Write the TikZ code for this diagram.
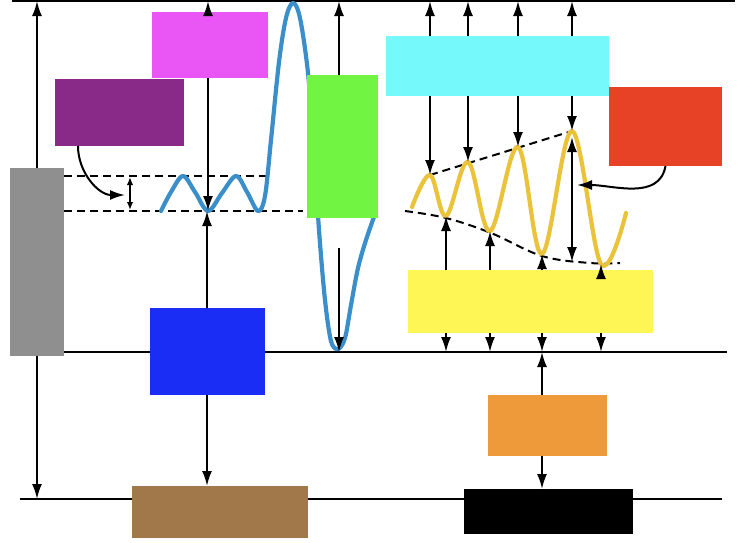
\documentclass[tikz,border=0pt]{standalone}
\usepackage{tikz}
\usetikzlibrary{positioning,arrows.meta,calc}

\definecolor{cGray}{HTML}{8F8F8F}
\definecolor{cMagenta}{HTML}{EA55F5}
\definecolor{cPurple}{HTML}{8A2A88}
\definecolor{cGreen}{HTML}{72F542}
\definecolor{cCyan}{HTML}{75F9FB}
\definecolor{cRed}{HTML}{E84226}
\definecolor{cYellow}{HTML}{FDF655}
\definecolor{cBlue}{HTML}{1A2DF5}
\definecolor{cBrown}{HTML}{A0784A}
\definecolor{cOrange}{HTML}{EE9A3A}
\definecolor{waveBlue}{HTML}{3A8FCB}
\definecolor{waveGold}{HTML}{EBC33A}

\begin{document}
\begin{tikzpicture}[x=1pt,y=-1pt,outer sep=0pt,
  blockA/.style={
    fill=cGray,
    inner sep=0pt,
    minimum width=54pt,
    minimum height=188pt,
    },
  blockB/.style={blockA,fill=cMagenta,minimum width=116pt,minimum height=66pt},
  blockC/.style={blockA,fill=cPurple,minimum width=129pt,minimum height=67pt},
  rail/.style={line width=2pt},
  guide/.style={line width=2pt,dash pattern=on 8pt off 5pt},
  arr/.style={line width=2pt,-{Latex[length=15pt,width=10pt]}},
  darr/.style={arr,{Latex[length=15pt,width=10pt]}-{Latex[length=15pt,width=10pt]}},
  wave/.style={line width=4.2pt,line cap=round,line join=round},
  ]
  \useasboundingbox (0,0) rectangle (749,542);

  % horizontal rails
  \coordinate (topL) at (12,1);   \coordinate (topR) at (735,1);
  \coordinate (midL) at (64,352); \coordinate (midR) at (727,352);
  \coordinate (botL) at (20,499); \coordinate (botR) at (722,499);
  \draw[rail] (topL) -- (topR);
  \draw[rail] (midL) -- (midR);
  \draw[rail] (botL) -- (botR);

  % left wave and its levels
  \coordinate (bt1) at (208,211);
  \draw[guide] (64,176) -- (267,176);
  \draw[guide] (64,211) -- (303,211);
  \draw[wave,waveBlue] plot[smooth,tension=0.55] coordinates {
    (161,211) (171,192) (183,176) (195,192) (208,211) (222,193) (236,176)
    (247,192) (258,211) (265,196) (271,140) (279,62) (286,18) (293,3)
    (300,18) (308,73) (314,150) (319,230) (325,300) (331,341) (338,349)
    (345,338) (351,305) (358,268) (366,240) (375,214)};

  % right wave and its envelope
  \coordinate (yp1) at (430,175); \coordinate (yp2) at (468,162);
  \coordinate (yp3) at (518,147); \coordinate (yp4) at (572,131);
  \coordinate (yt1) at (446,216); \coordinate (yt2) at (490,231);
  \coordinate (yt3) at (542,254); \coordinate (yt4) at (601,264);
  \draw[guide] (yp1) -- (yp4);
  \draw[guide] plot[smooth,tension=0.6] coordinates {
    (405,211) (446,218) (491,233) (542,256) (590,263) (620,263)};
  \draw[wave,waveGold] plot[smooth,tension=0.6] coordinates {
    (412,207) (yp1) (yt1) (yp2) (yt2) (yp3) (yt3) (yp4) (yt4) (626,213)};

  % blocks
  \node[blockA] (gray) at (37,262) {};
  \node[blockB] (magenta) at (210,45) {};
  \node[blockC] (purple) at (119.5,112.5) {};
  \node[blockA, fill=cGreen, minimum width=71pt, minimum height=143pt] (green) at (342.5,146.5) {};
  \node[blockA, fill=cCyan, minimum width=223pt, minimum height=60pt] (cyan) at (497.5,66) {};
  \node[blockA, fill=cRed, minimum width=113pt, minimum height=79pt] (red) at (665.5,126.5) {};
  \node[blockA, fill=cYellow, minimum width=245pt, minimum height=63pt] (yellow) at (530.5,301.5) {};
  \node[blockA, fill=cBlue, minimum width=115pt, minimum height=87pt] (blue) at (207,351.5) {};
  \node[blockA, fill=cBrown, minimum width=176pt, minimum height=52pt] (brown) at (220,512) {};
  \node[blockA, fill=cOrange, minimum width=119pt, minimum height=61pt] (orange) at (547.5,425.5) {};
  \node[blockA, fill=black, minimum width=169pt, minimum height=45pt] (black) at (548.5,511.5) {};

  % left column
  \draw[arr] (gray.north) -- (gray.north |- topL);
  \draw[arr] (gray.south) -- (gray.south |- botL);
  \coordinate (pA) at (125,195);
  \draw[arr] ([xshift=23pt]purple.south west) to[out=-90,in=180] (pA);
  \coordinate (dA) at (130,177); \coordinate (dB) at (130,210);
  \draw[darr,{Latex[length=8pt,width=6.5pt]}-{Latex[length=8pt,width=6.5pt]}] (dA) -- (dB);

  % middle column
  \draw[arr] (magenta.north -| bt1) -- (bt1 |- topL);
  \draw[arr] (magenta.south -| bt1) -- (bt1);
  \draw[arr] (blue.north) -- (blue.north |- bt1);
  \draw[arr] (blue.south) -- (blue.south |- brown.north);
  \coordinate (gx) at (339,248);
  \draw[arr] (green.north -| gx) -- (gx |- topL);
  \draw[arr] (gx) -- (gx |- midL);

  % right column
  \draw[arr] (cyan.north -| yp1) -- (yp1 |- topL);
  \draw[arr] (cyan.north -| yp2) -- (yp2 |- topL);
  \draw[arr] (cyan.north -| yp3) -- (yp3 |- topL);
  \draw[arr] (cyan.north -| yp4) -- (yp4 |- topL);
  \draw[arr] (cyan.south -| yp1) -- (yp1);
  \draw[arr] (cyan.south -| yp2) -- (yp2);
  \draw[arr] (cyan.south -| yp3) -- (yp3);
  \draw[arr] (cyan.south -| yp4) -- (yp4);

  \draw[arr] (yellow.north -| yt1) -- (yt1);
  \draw[arr] (yellow.north -| yt2) -- (yt2);
  \draw[arr] (yellow.north -| yt3) -- (yt3);
  \draw[arr] (yellow.north -| yt4) -- (yt4);
  \draw[arr] (yellow.south -| yt1) -- (yt1 |- midL);
  \draw[arr] (yellow.south -| yt2) -- (yt2 |- midL);
  \draw[arr] (yellow.south -| yt3) -- (yt3 |- midL);
  \draw[arr] (yellow.south -| yt4) -- (yt4 |- midL);

  \draw[arr] (orange.north -| yt3) -- (yt3 |- midL);
  \draw[arr] (orange.south -| yt3) -- (yt3 |- black.north);

  \coordinate (amp1) at (572,137); \coordinate (amp2) at (572,262);
  \draw[darr] (amp1) -- (amp2);
  \coordinate (ampM) at (577,185);
  \draw[arr] (red.south) to[out=-100,in=0] (ampM);

\end{tikzpicture}
\end{document}
